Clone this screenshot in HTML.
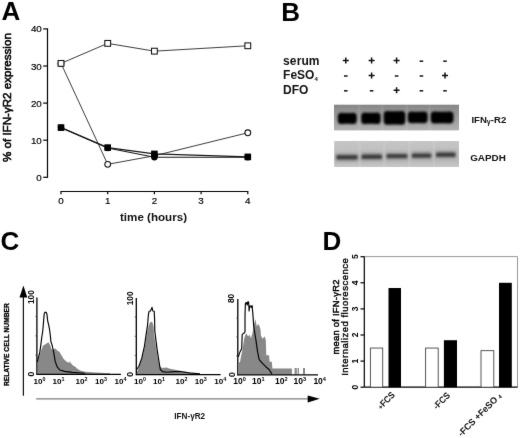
<!DOCTYPE html>
<html><head><meta charset="utf-8"><style>
html,body{margin:0;padding:0;background:#fff;width:520px;height:438px;overflow:hidden}
svg{display:block}
text{font-family:"Liberation Sans", sans-serif;fill:#111}
.big{font-size:26px;font-weight:bold;fill:#000}
.lab{font-weight:bold}
.tick{font-size:9.8px;fill:#000}
.tA{stroke:#000;stroke-width:0.18px}
.ax{stroke:#000;stroke-width:1.2}
</style></head><body>
<svg width="520" height="438" viewBox="0 0 520 438">
<defs>
<linearGradient id="gel1" x1="0" y1="0" x2="0" y2="1"><stop offset="0" stop-color="#858585"/><stop offset="0.18" stop-color="#8f8f8f"/><stop offset="0.5" stop-color="#9c9c9c"/><stop offset="0.85" stop-color="#aaaaaa"/><stop offset="1" stop-color="#b2b2b2"/></linearGradient>
<linearGradient id="gel2" x1="0" y1="0" x2="0" y2="1"><stop offset="0" stop-color="#c6c6c6"/><stop offset="0.45" stop-color="#bebebe"/><stop offset="0.75" stop-color="#bababa"/><stop offset="1" stop-color="#c6c6c6"/></linearGradient>
<filter id="bl" x="-20%" y="-50%" width="140%" height="200%"><feGaussianBlur stdDeviation="0.9"/></filter>
<filter id="bl2" x="-20%" y="-80%" width="140%" height="260%"><feGaussianBlur stdDeviation="0.7"/></filter>
<filter id="bw" x="-20%" y="-80%" width="140%" height="260%"><feGaussianBlur stdDeviation="1.6"/></filter>
<filter id="glob" x="0" y="0" width="520" height="438" filterUnits="userSpaceOnUse" color-interpolation-filters="sRGB"><feConvolveMatrix order="3" kernelMatrix="0.01 0.05 0.01 0.05 0.76 0.05 0.01 0.05 0.01" edgeMode="duplicate"/></filter>
<filter id="bs" x="-5%" y="-10%" width="110%" height="120%"><feGaussianBlur stdDeviation="0.45"/></filter>
</defs>
<g filter="url(#glob)">
<rect width="520" height="438" fill="#fff"/>
<text x="1.6" y="19.8" class="big">A</text>
<line x1="47.5" y1="28.4" x2="47.5" y2="177.8" class="ax"/>
<line x1="43.2" y1="177.3" x2="47.5" y2="177.3" class="ax"/>
<text x="41.8" y="180.8" class="tick tA" text-anchor="end">0</text>
<line x1="43.2" y1="140.2" x2="47.5" y2="140.2" class="ax"/>
<text x="41.8" y="143.7" class="tick tA" text-anchor="end">10</text>
<line x1="43.2" y1="103.1" x2="47.5" y2="103.1" class="ax"/>
<text x="41.8" y="106.6" class="tick tA" text-anchor="end">20</text>
<line x1="43.2" y1="66" x2="47.5" y2="66" class="ax"/>
<text x="41.8" y="69.5" class="tick tA" text-anchor="end">30</text>
<line x1="43.2" y1="28.9" x2="47.5" y2="28.9" class="ax"/>
<text x="41.8" y="32.4" class="tick tA" text-anchor="end">40</text>
<line x1="60.5" y1="191.5" x2="248.3" y2="191.5" class="ax"/>
<line x1="61" y1="191.5" x2="61" y2="194.2" class="ax"/>
<text x="61" y="204.3" class="tick tA" text-anchor="middle">0</text>
<line x1="107.7" y1="191.5" x2="107.7" y2="194.2" class="ax"/>
<text x="107.7" y="204.3" class="tick tA" text-anchor="middle">1</text>
<line x1="154.4" y1="191.5" x2="154.4" y2="194.2" class="ax"/>
<text x="154.4" y="204.3" class="tick tA" text-anchor="middle">2</text>
<line x1="201.1" y1="191.5" x2="201.1" y2="194.2" class="ax"/>
<text x="201.1" y="204.3" class="tick tA" text-anchor="middle">3</text>
<line x1="247.8" y1="191.5" x2="247.8" y2="194.2" class="ax"/>
<text x="247.8" y="204.3" class="tick tA" text-anchor="middle">4</text>
<text x="153.5" y="221.3" class="lab" text-anchor="middle" style="font-size:11.6px">time (hours)</text>
<text transform="translate(11.2,97.6) rotate(-90)" text-anchor="middle" style="font-size:11.6px;fill:#000;stroke:#000;stroke-width:0.55px">% of IFN-γR2 expression</text>
<polyline points="61,63.4 107.7,43.37 154.4,51.16 247.8,45.78" fill="none" stroke="#1a1a1a" stroke-width="0.85"/>
<polyline points="61,63.4 107.7,164.31 154.4,155.78 247.8,132.78" fill="none" stroke="#1a1a1a" stroke-width="0.85"/>
<polyline points="61,127.59 107.7,147.62 154.4,153.93 247.8,156.9" fill="none" stroke="#1a1a1a" stroke-width="1.3"/>
<polyline points="61,127.59 107.7,147.99 154.4,157.27 247.8,157.27" fill="none" stroke="#1a1a1a" stroke-width="1.1"/>
<circle cx="61" cy="63.4" r="2.9" fill="#fff" stroke="#111" stroke-width="1.05"/>
<circle cx="107.7" cy="164.31" r="2.9" fill="#fff" stroke="#111" stroke-width="1.05"/>
<circle cx="154.4" cy="155.78" r="2.9" fill="#fff" stroke="#111" stroke-width="1.05"/>
<circle cx="247.8" cy="132.78" r="2.9" fill="#fff" stroke="#111" stroke-width="1.05"/>
<rect x="58.1" y="60.5" width="5.8" height="5.8" fill="#fff" stroke="#111" stroke-width="1.05"/>
<rect x="104.8" y="40.47" width="5.8" height="5.8" fill="#fff" stroke="#111" stroke-width="1.05"/>
<rect x="151.5" y="48.26" width="5.8" height="5.8" fill="#fff" stroke="#111" stroke-width="1.05"/>
<rect x="244.9" y="42.88" width="5.8" height="5.8" fill="#fff" stroke="#111" stroke-width="1.05"/>
<circle cx="61" cy="127.59" r="3.2" fill="#000"/>
<circle cx="107.7" cy="147.99" r="3.2" fill="#000"/>
<circle cx="154.4" cy="157.27" r="3.2" fill="#000"/>
<circle cx="247.8" cy="157.27" r="3.2" fill="#000"/>
<rect x="57.7" y="124.29" width="6.6" height="6.6" fill="#000"/>
<rect x="104.4" y="144.32" width="6.6" height="6.6" fill="#000"/>
<rect x="151.1" y="150.63" width="6.6" height="6.6" fill="#000"/>
<rect x="244.5" y="153.59" width="6.6" height="6.6" fill="#000"/>
<text x="281.3" y="20.5" class="big">B</text>
<text x="283.1" y="65" class="lab" style="font-size:12px;letter-spacing:0.1px">serum</text>
<text x="283.1" y="79.1" class="lab" style="font-size:12px">FeSO<tspan dy="2" style="font-size:6px">4</tspan></text>
<text x="283.1" y="94.3" class="lab" style="font-size:12px">DFO</text>
<path d="M342.8 60.6H348.8M345.8 57.6V63.6" stroke="#111" stroke-width="1.5"/>
<path d="M368.6 60.6H374.6M371.6 57.6V63.6" stroke="#111" stroke-width="1.5"/>
<path d="M393.6 60.6H399.6M396.6 57.6V63.6" stroke="#111" stroke-width="1.5"/>
<path d="M419.6 61.2H423.2" stroke="#222" stroke-width="1.6"/>
<path d="M443.2 61.2H446.8" stroke="#222" stroke-width="1.6"/>
<path d="M344 76H347.6" stroke="#222" stroke-width="1.6"/>
<path d="M368.6 75.4H374.6M371.6 72.4V78.4" stroke="#111" stroke-width="1.5"/>
<path d="M394.8 76H398.4" stroke="#222" stroke-width="1.6"/>
<path d="M419.6 76H423.2" stroke="#222" stroke-width="1.6"/>
<path d="M442 75.4H448M445 72.4V78.4" stroke="#111" stroke-width="1.5"/>
<path d="M344 90.8H347.6" stroke="#222" stroke-width="1.6"/>
<path d="M369.8 90.8H373.4" stroke="#222" stroke-width="1.6"/>
<path d="M393.6 90.2H399.6M396.6 87.2V93.2" stroke="#111" stroke-width="1.5"/>
<path d="M419.6 90.8H423.2" stroke="#222" stroke-width="1.6"/>
<path d="M443.2 90.8H446.8" stroke="#222" stroke-width="1.6"/>
<g filter="url(#bs)">
<rect x="334" y="104.7" width="125" height="25.7" fill="url(#gel1)"/>
<rect x="357.9" y="105" width="2.6" height="25" fill="#fff" opacity="0.07"/>
<rect x="380.9" y="105" width="2.6" height="25" fill="#fff" opacity="0.07"/>
<rect x="405.3" y="105" width="2.6" height="25" fill="#fff" opacity="0.07"/>
<rect x="428.3" y="105" width="2.6" height="25" fill="#fff" opacity="0.07"/>
<rect x="334.2" y="141" width="124.8" height="26" fill="url(#gel2)"/>
<rect x="358.3" y="141.3" width="2.6" height="25.5" fill="#fff" opacity="0.08"/>
<rect x="383" y="141.3" width="2.6" height="25.5" fill="#fff" opacity="0.08"/>
<rect x="408.2" y="141.3" width="2.6" height="25.5" fill="#fff" opacity="0.08"/>
<rect x="432.5" y="141.3" width="2.6" height="25.5" fill="#fff" opacity="0.08"/>
</g>
<path d="M341.4 112.8 Q347.25 113.3 353.1 112.8 A3.6 3.6 0 0 1 356.7 116.4 L356.7 120.4 A3.6 3.6 0 0 1 353.1 124 Q347.25 123.7 341.4 124 A3.6 3.6 0 0 1 337.8 120.4 L337.8 116.4 A3.6 3.6 0 0 1 341.4 112.8Z" fill="#040404" filter="url(#bl)"/>
<path d="M364.8 112.6 Q370.9 113.1 377 112.6 A3.6 3.6 0 0 1 380.6 116.2 L380.6 120.4 A3.6 3.6 0 0 1 377 124 Q370.9 123.7 364.8 124 A3.6 3.6 0 0 1 361.2 120.4 L361.2 116.2 A3.6 3.6 0 0 1 364.8 112.6Z" fill="#040404" filter="url(#bl)"/>
<path d="M387.3 110.9 Q394.5 111.4 401.7 110.9 A3.6 3.6 0 0 1 405.3 114.5 L405.3 121.1 A3.6 3.6 0 0 1 401.7 124.7 Q394.5 124.4 387.3 124.7 A3.6 3.6 0 0 1 383.7 121.1 L383.7 114.5 A3.6 3.6 0 0 1 387.3 110.9Z" fill="#040404" filter="url(#bl)"/>
<path d="M411.4 111.4 Q417.7 111.9 424 111.4 A3.6 3.6 0 0 1 427.6 115 L427.6 119.6 A3.6 3.6 0 0 1 424 123.2 Q417.7 122.9 411.4 123.2 A3.6 3.6 0 0 1 407.8 119.6 L407.8 115 A3.6 3.6 0 0 1 411.4 111.4Z" fill="#040404" filter="url(#bl)"/>
<path d="M434.3 111.6 Q442.1 112.1 449.9 111.6 A3.6 3.6 0 0 1 453.5 115.2 L453.5 119.8 A3.6 3.6 0 0 1 449.9 123.4 Q442.1 123.1 434.3 123.4 A3.6 3.6 0 0 1 430.7 119.8 L430.7 115.2 A3.6 3.6 0 0 1 434.3 111.6Z" fill="#040404" filter="url(#bl)"/>
<rect x="335.8" y="152.8" width="22.3" height="9" fill="#8a8a8a" opacity="0.45" filter="url(#bw)"/>
<rect x="336.3" y="155.1" width="21.3" height="4.4" rx="1.5" fill="#3c3c3c" filter="url(#bl)"/>
<rect x="361" y="152.2" width="21.5" height="9" fill="#8a8a8a" opacity="0.45" filter="url(#bw)"/>
<rect x="361.5" y="154.5" width="20.5" height="4.4" rx="1.5" fill="#3c3c3c" filter="url(#bl)"/>
<rect x="386" y="151.6" width="21.9" height="9" fill="#8a8a8a" opacity="0.45" filter="url(#bw)"/>
<rect x="386.5" y="153.9" width="20.9" height="4.4" rx="1.5" fill="#3c3c3c" filter="url(#bl)"/>
<rect x="411.3" y="151.1" width="20.5" height="9" fill="#8a8a8a" opacity="0.45" filter="url(#bw)"/>
<rect x="411.8" y="153.4" width="19.5" height="4.4" rx="1.5" fill="#3c3c3c" filter="url(#bl)"/>
<rect x="435.5" y="150.3" width="20.6" height="9" fill="#8a8a8a" opacity="0.45" filter="url(#bw)"/>
<rect x="436" y="152.6" width="19.6" height="4.4" rx="1.5" fill="#3c3c3c" filter="url(#bl)"/>
<text x="471.4" y="123" class="lab" style="font-size:9.6px">IFN<tspan style="font-size:7px" dy="0.8">γ</tspan><tspan dy="-0.8">-R2</tspan></text>
<text x="470.2" y="161.2" class="lab" style="font-size:9.9px">GAPDH</text>
<text x="0.4" y="250.4" class="big">C</text>
<line x1="23.4" y1="294" x2="23.4" y2="395.8" stroke="#111" stroke-width="1.2"/>
<path d="M23.4 285.6 L27.3 297.4 L19.5 297.4 Z" fill="#000"/>
<line x1="36.2" y1="398.8" x2="310" y2="398.8" stroke="#7c7c7c" stroke-width="1.3"/>
<path d="M319.8 398.8 L307.7 395.4 L307.7 402.6 Z" fill="#000"/>
<text transform="translate(9,344.6) rotate(-90)" class="lab" text-anchor="middle" style="font-size:6.7px;fill:#000;stroke:#000;stroke-width:0.3px">RELATIVE CELL NUMBER</text>
<text x="189.7" y="418.5" class="lab" text-anchor="middle" style="font-size:8.2px">IFN-γR2</text>
<polygon points="37.8,374.3 37.8,361.8 39.3,357 41.2,350.3 43.1,345.5 45,344.6 46.5,343.6 48.4,342.2 49.8,344.6 51.7,349.4 53.2,349.4 55.6,348.4 57.5,350.8 59.4,351.8 61.3,355.1 63.7,359 66.6,361.8 69.5,362.8 70,360.4 70.5,362.8 73.3,365.7 75,366.6 77,368.5 80,370.6 85,371.8 95,372.6 110,373.3 110,374.3" fill="#888"/>

<polyline points="37.4,361.8 38.3,358 39.8,352.3 40.9,344.3 41.8,337 42.7,331.5 43.2,326 43.8,318.5 44.2,313.8 45,312.2 46.3,312.4 47,314.5 47.5,319.5 47.9,321.8 48.6,324.7 49.6,329.7 50.3,335.2 50.9,341.6 52.2,345.5 53.7,352.3 55.1,360.9 57,366.6 59.9,370 64.7,371.4 72.4,372.4 85,373.3" fill="none" stroke="#000" stroke-width="1.15" stroke-linejoin="round"/>
<line x1="36.9" y1="297.4" x2="36.9" y2="374.9" stroke="#000" stroke-width="1.3"/>
<line x1="36.9" y1="374.3" x2="120.9" y2="374.3" stroke="#000" stroke-width="1.3"/>
<line x1="35.3" y1="355.07" x2="36.9" y2="355.07" stroke="#333" stroke-width="0.7"/>
<line x1="35.3" y1="335.85" x2="36.9" y2="335.85" stroke="#333" stroke-width="0.7"/>
<line x1="35.3" y1="316.62" x2="36.9" y2="316.62" stroke="#333" stroke-width="0.7"/>
<text transform="translate(34.3,297.1) rotate(-90)" class="tick" text-anchor="middle" style="font-size:8.4px;font-weight:bold;fill:#000">100</text>
<text transform="translate(33.9,374) rotate(-90)" class="tick" text-anchor="middle" style="font-size:8.6px;font-weight:bold;fill:#000">0</text>
<text x="33.4" y="383.8" class="tick" style="font-size:8.1px;font-weight:bold;fill:#000">10<tspan dy="-2.75" style="font-size:5.35px">0</tspan></text>
<text x="52.4" y="383.8" class="tick" style="font-size:8.1px;font-weight:bold;fill:#000">10<tspan dy="-2.75" style="font-size:5.35px">1</tspan></text>
<text x="75.4" y="383.8" class="tick" style="font-size:8.1px;font-weight:bold;fill:#000">10<tspan dy="-2.75" style="font-size:5.35px">2</tspan></text>
<text x="95" y="383.8" class="tick" style="font-size:8.1px;font-weight:bold;fill:#000">10<tspan dy="-2.75" style="font-size:5.35px">3</tspan></text>
<text x="114.4" y="383.8" class="tick" style="font-size:8.1px;font-weight:bold;fill:#000">10<tspan dy="-2.75" style="font-size:5.35px">4</tspan></text>
<polygon points="137,374.7 137,372 139.5,366 142.5,357 145,346 146.8,334 148,328 149.5,323.5 151,321.5 152.5,322.5 153.6,327 154,334 156,347 157.8,358 159.5,366 162,368 166.25,367.5 170,368.8 176.25,370 187.5,371.9 196.25,373.1 198,374.3 198,374.7" fill="#888"/>

<polyline points="136.7,369.5 138.9,366.2 141.7,358.5 144.4,346.4 146.4,332.6 147.6,324.8 148.4,314.8 149.1,311.3 150.5,311 152,307.4 152.8,311 154.2,311.3 154.6,319.4 154.8,331 157,348.6 158.7,359.6 160.3,369.5 162.5,371.6 166.9,372.2 174,371.6 180,371.5 190,373 200,373.8" fill="none" stroke="#000" stroke-width="1.15" stroke-linejoin="round"/>
<line x1="136.3" y1="297.9" x2="136.3" y2="375.3" stroke="#000" stroke-width="1.3"/>
<line x1="136.3" y1="374.7" x2="220.6" y2="374.7" stroke="#000" stroke-width="1.3"/>
<line x1="134.7" y1="355.5" x2="136.3" y2="355.5" stroke="#333" stroke-width="0.7"/>
<line x1="134.7" y1="336.3" x2="136.3" y2="336.3" stroke="#333" stroke-width="0.7"/>
<line x1="134.7" y1="317.1" x2="136.3" y2="317.1" stroke="#333" stroke-width="0.7"/>
<text transform="translate(133,298.3) rotate(-90)" class="tick" text-anchor="middle" style="font-size:8.4px;font-weight:bold;fill:#000">100</text>
<text transform="translate(133.3,374.4) rotate(-90)" class="tick" text-anchor="middle" style="font-size:8.6px;font-weight:bold;fill:#000">0</text>
<text x="134" y="384" class="tick" style="font-size:8.1px;font-weight:bold;fill:#000">10<tspan dy="-2.75" style="font-size:5.35px">0</tspan></text>
<text x="153" y="384" class="tick" style="font-size:8.1px;font-weight:bold;fill:#000">10<tspan dy="-2.75" style="font-size:5.35px">1</tspan></text>
<text x="175.4" y="384" class="tick" style="font-size:8.1px;font-weight:bold;fill:#000">10<tspan dy="-2.75" style="font-size:5.35px">2</tspan></text>
<text x="194.8" y="384" class="tick" style="font-size:8.1px;font-weight:bold;fill:#000">10<tspan dy="-2.75" style="font-size:5.35px">3</tspan></text>
<text x="214.2" y="384" class="tick" style="font-size:8.1px;font-weight:bold;fill:#000">10<tspan dy="-2.75" style="font-size:5.35px">4</tspan></text>
<polygon points="238.9,374.8 238.9,362.9 240,361.8 242.8,347.5 244.4,337.7 246,333.3 248.3,336.6 249.4,334.4 251,338.2 252.6,332.2 254.1,324.1 255.6,319.1 256.6,326.2 258.1,324.1 259.6,326.2 260.6,330.2 260.9,335.5 262.5,338.8 264.7,336.6 265.8,339.9 266.3,355.2 269.1,355.2 269.6,361.8 271.8,361.8 272.4,368.4 291.9,368.4 291.9,374.5 291.9,374.8" fill="#888"/>
<rect x="294.6" y="368" width="2.2" height="6.5" fill="#888"/><rect x="297.6" y="368" width="1.3" height="6.5" fill="#888"/><rect x="303" y="368" width="2" height="6.5" fill="#888"/>
<polyline points="238.4,356.9 239.3,353.6 240,351.9 241.7,348.6 242.2,334.4 244.4,332.7 245,331.7 245,316.1 245.4,303.5 246.5,302.5 247.2,305 248.1,301.5 248.7,303 249.1,311 249.6,306 250.6,306 251.2,307.5 252.1,305.5 252.6,311 253.1,317.1 253.6,325.1 254.3,330 255.9,339.9 257.6,351.9 259.2,359.6 262.5,363.4 265.8,366.7 269.1,369.5 271.8,373.9" fill="none" stroke="#000" stroke-width="1.15" stroke-linejoin="round"/>
<line x1="237.8" y1="299.1" x2="237.8" y2="375.4" stroke="#000" stroke-width="1.3"/>
<line x1="237.8" y1="374.8" x2="318" y2="374.8" stroke="#000" stroke-width="1.3"/>
<line x1="236.2" y1="355.88" x2="237.8" y2="355.88" stroke="#333" stroke-width="0.7"/>
<line x1="236.2" y1="336.95" x2="237.8" y2="336.95" stroke="#333" stroke-width="0.7"/>
<line x1="236.2" y1="318.03" x2="237.8" y2="318.03" stroke="#333" stroke-width="0.7"/>
<text transform="translate(234.3,298.4) rotate(-90)" class="tick" text-anchor="middle" style="font-size:8.4px;font-weight:bold;fill:#000">80</text>
<text transform="translate(234.8,374.5) rotate(-90)" class="tick" text-anchor="middle" style="font-size:8.6px;font-weight:bold;fill:#000">0</text>
<text x="233.2" y="383.9" class="tick" style="font-size:8.5px;font-weight:bold;fill:#000">10<tspan dy="-2.89" style="font-size:5.61px">0</tspan></text>
<text x="252" y="383.9" class="tick" style="font-size:8.5px;font-weight:bold;fill:#000">10<tspan dy="-2.89" style="font-size:5.61px">1</tspan></text>
<text x="275" y="383.9" class="tick" style="font-size:8.5px;font-weight:bold;fill:#000">10<tspan dy="-2.89" style="font-size:5.61px">2</tspan></text>
<text x="293.6" y="383.9" class="tick" style="font-size:8.5px;font-weight:bold;fill:#000">10<tspan dy="-2.89" style="font-size:5.61px">3</tspan></text>
<text x="313.4" y="383.9" class="tick" style="font-size:8.5px;font-weight:bold;fill:#000">10<tspan dy="-2.89" style="font-size:5.61px">4</tspan></text>
<text x="322.4" y="249.5" class="big">D</text>
<path d="M364.3 256.6 H517.5 V387.2" fill="none" stroke="#999" stroke-width="1"/>
<line x1="364.3" y1="256.6" x2="364.3" y2="387.2" class="ax"/>
<line x1="364.3" y1="387.2" x2="517.5" y2="387.2" class="ax"/>
<line x1="360.5" y1="387.2" x2="364.3" y2="387.2" class="ax"/>
<text transform="translate(358.2,387.2) rotate(-90)" class="tick" text-anchor="middle" style="font-size:8.5px;font-weight:bold">0</text>
<line x1="360.5" y1="361.1" x2="364.3" y2="361.1" class="ax"/>
<text transform="translate(358.2,361.1) rotate(-90)" class="tick" text-anchor="middle" style="font-size:8.5px;font-weight:bold">1</text>
<line x1="360.5" y1="335" x2="364.3" y2="335" class="ax"/>
<text transform="translate(358.2,335) rotate(-90)" class="tick" text-anchor="middle" style="font-size:8.5px;font-weight:bold">2</text>
<line x1="360.5" y1="308.9" x2="364.3" y2="308.9" class="ax"/>
<text transform="translate(358.2,308.9) rotate(-90)" class="tick" text-anchor="middle" style="font-size:8.5px;font-weight:bold">3</text>
<line x1="360.5" y1="282.8" x2="364.3" y2="282.8" class="ax"/>
<text transform="translate(358.2,282.8) rotate(-90)" class="tick" text-anchor="middle" style="font-size:8.5px;font-weight:bold">4</text>
<line x1="360.5" y1="256.7" x2="364.3" y2="256.7" class="ax"/>
<text transform="translate(358.2,256.7) rotate(-90)" class="tick" text-anchor="middle" style="font-size:8.5px;font-weight:bold">5</text>
<rect x="370.4" y="348.05" width="12.3" height="39.15" fill="#fff" stroke="#444" stroke-width="0.9"/>
<rect x="388.5" y="288.02" width="12.5" height="99.18" fill="#000"/>
<rect x="425.6" y="348.05" width="12.6" height="39.15" fill="#fff" stroke="#444" stroke-width="0.9"/>
<rect x="443.9" y="340.22" width="13.1" height="46.98" fill="#000"/>
<rect x="481" y="350.66" width="12.8" height="36.54" fill="#fff" stroke="#444" stroke-width="0.9"/>
<rect x="499" y="282.8" width="12.8" height="104.4" fill="#000"/>
<text transform="translate(339,316.9) rotate(-90)" text-anchor="middle" style="font-size:9.4px;letter-spacing:0.25px;fill:#000;stroke:#000;stroke-width:0.45px">mean of IFN-γR2</text>
<text transform="translate(348.3,316.8) rotate(-90)" text-anchor="middle" style="font-size:9.5px;letter-spacing:0.5px;fill:#000;stroke:#000;stroke-width:0.35px">Internalized fluorescence</text>
<text transform="translate(395.6,395.4) rotate(-45) scale(0.92,1)" class="lab" text-anchor="end" style="font-size:9.2px"><tspan style="font-size:7px">+</tspan>FCS</text>
<text transform="translate(450.8,396) rotate(-45) scale(0.92,1)" class="lab" text-anchor="end" style="font-size:9.2px">-FCS</text>
<text transform="translate(502,396.6) rotate(-45) scale(0.97,1)" class="lab" text-anchor="end" style="font-size:9.2px">-FCS +FeSO<tspan dy="0.5" dx="2.5" style="font-size:5.5px">4</tspan></text>
</g>
</svg>
</body></html>
